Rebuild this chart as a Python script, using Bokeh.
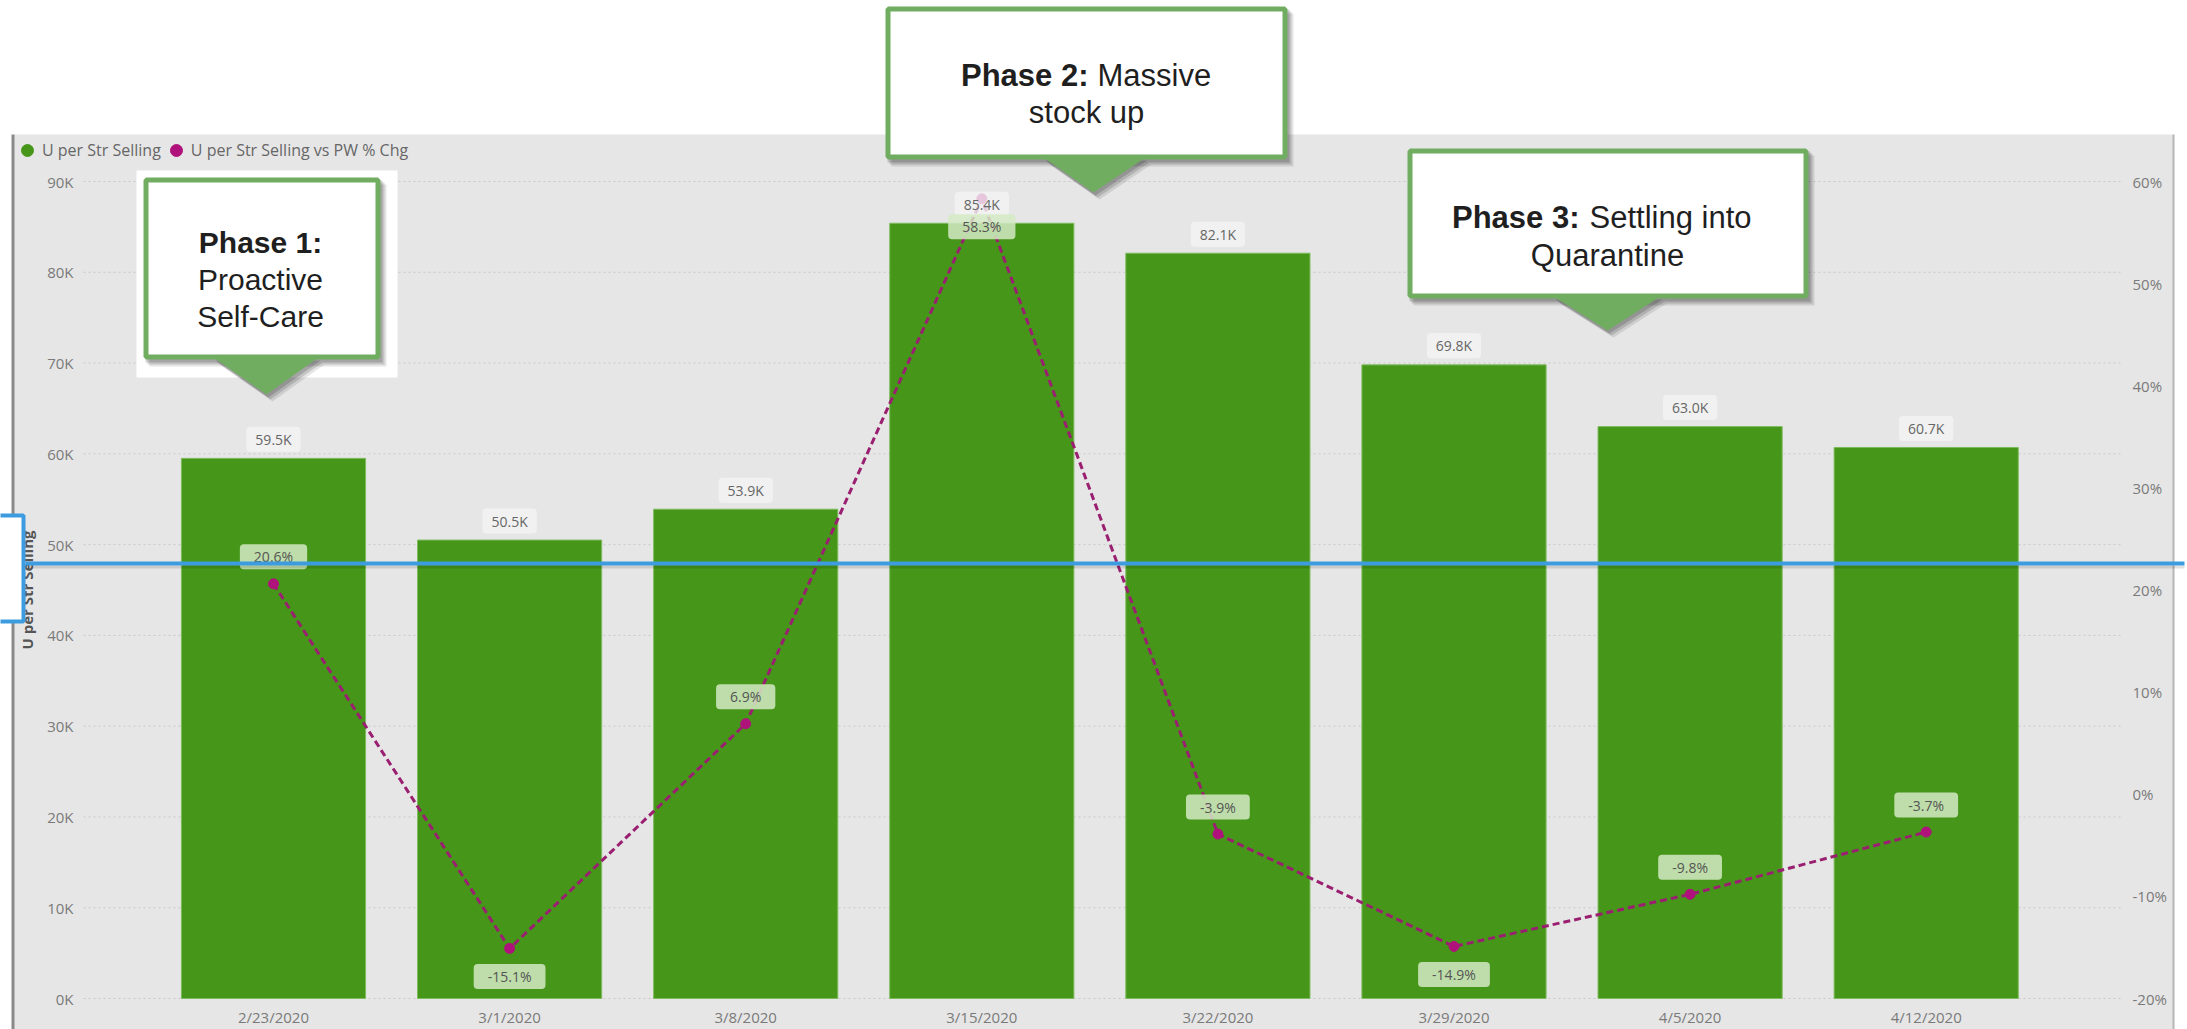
from bokeh.plotting import figure
from bokeh.models import (Range1d, LinearAxis, FixedTicker, BoxAnnotation, PolyAnnotation,
                          Label, Legend, LegendItem)
from bokeh.core.properties import value
from bokeh.embed import file_html
from bokeh.resources import INLINE

# ---------------- data ----------------
weeks = ["2/23/2020", "3/1/2020", "3/8/2020", "3/15/2020",
         "3/22/2020", "3/29/2020", "4/5/2020", "4/12/2020"]
units_per_store = [59500, 50500, 53900, 85400, 82100, 69800, 63000, 60700]
pct_vs_prev_week = [20.6, -15.1, 6.9, 58.3, -3.9, -14.9, -9.8, -3.7]

left_ticks = [0, 10000, 20000, 30000, 40000, 50000, 60000, 70000, 80000, 90000]
left_tick_labels = ["0K", "10K", "20K", "30K", "40K", "50K", "60K", "70K", "80K", "90K"]
right_ticks = [-20, -10, 0, 10, 20, 30, 40, 50, 60]
right_tick_labels = ["-20%", "-10%", "0%", "10%", "20%", "30%", "40%", "50%", "60%"]

series_names = ["U per Str Selling", "U per Str Selling vs PW % Chg"]

# ---------------- styling / layout ----------------
W, H = 2187, 1029
PL, PR, PT, PB = 83, 2120, 181, 998          # plot area inside the report panel (canvas px)
UNIT = 236.1                                   # px per category
FIRST_CENTER = 273
GREEN = "#46961a"
PURPLE_LINE = "#9a1f70"
PURPLE_PT = "#b0127c"
CALLOUT_GREEN = "#70ad60"
PANEL = "#e6e6e6"
BLUE = "#3d9be0"
FONT = "Open Sans"
CFONT = "Liberation Sans"

xpos = list(range(1, len(weeks) + 1))

# the frame covers the whole canvas; ranges are chosen so the plot area sits at PL..PR, PT..PB
x_start = 1 - FIRST_CENTER / UNIT
x_end = x_start + W / UNIT
lo, hi = left_ticks[0], left_ticks[-1]
per_px = (hi - lo) / (PB - PT)
y_start, y_end = lo - (H - PB) * per_px, hi + PT * per_px
plo, phi = right_ticks[0], right_ticks[-1]
per_px_p = (phi - plo) / (PB - PT)
p_start, p_end = plo - (H - PB) * per_px_p, phi + PT * per_px_p


def px_to_x(px):
    return x_start + px / UNIT


p = figure(width=W, height=H, output_backend="svg", toolbar_location=None,
           x_range=Range1d(x_start, x_end), y_range=Range1d(y_start, y_end),
           min_border=0, min_border_left=0, min_border_right=0,
           min_border_top=0, min_border_bottom=0)
p.extra_y_ranges = {"pct": Range1d(p_start, p_end)}
p.background_fill_color = "white"
p.border_fill_color = "white"
p.outline_line_color = None
p.xgrid.grid_line_color = None
p.ygrid.grid_line_color = None


def cbox(l, t, r, b, **kw):
    kw.setdefault("line_alpha", 1)
    return BoxAnnotation(left=l, right=r, top=t, bottom=b,
                         left_units="canvas", right_units="canvas",
                         top_units="canvas", bottom_units="canvas", **kw)


def ctri(xs, ys, **kw):
    return PolyAnnotation(xs=xs, ys=ys, xs_units="canvas", ys_units="canvas", **kw)


# grey report panel
p.add_layout(cbox(13, 134, 2173, H + 5, fill_color=PANEL, fill_alpha=1,
                  line_color=None, level="image"))
p.add_layout(cbox(11, 134, 14, H + 5, fill_color="#8a8a8a", fill_alpha=1,
                  line_color=None, level="image"))
p.add_layout(cbox(2172, 134, 2174, H + 5, fill_color="#b5b5b5", fill_alpha=1,
                  line_color=None, level="image"))

# gridlines (from the left axis ticks, limited to the plot area)
n = len(left_ticks)
p.segment(x0=[px_to_x(PL)] * n, x1=[px_to_x(PR)] * n, y0=left_ticks, y1=left_ticks,
          line_color="#c9c9c9", line_width=1, line_dash="2 3")

# ---------------- axes ----------------
p.yaxis.fixed_location = px_to_x(PL)
p.yaxis.bounds = (lo, hi)
p.yaxis.ticker = FixedTicker(ticks=left_ticks)
p.yaxis.major_label_overrides = dict(zip(left_ticks, left_tick_labels))
p.yaxis.axis_label = series_names[0]
p.yaxis.axis_label_text_font = FONT
p.yaxis.axis_label_text_font_size = "15px"
p.yaxis.axis_label_text_font_style = "bold"
p.yaxis.axis_label_text_color = "#555555"
p.yaxis.axis_label_standoff = 7

p.xaxis.fixed_location = 0
p.xaxis.ticker = FixedTicker(ticks=xpos)
p.xaxis.major_label_overrides = dict(zip(xpos, weeks))

ry = LinearAxis(y_range_name="pct", ticker=FixedTicker(ticks=right_ticks),
                major_label_overrides=dict(zip(right_ticks, right_tick_labels)),
                fixed_location=px_to_x(PR), bounds=(plo, phi))
p.add_layout(ry, "right")

for ax in [p.xaxis[0], p.yaxis[0], ry]:
    ax.axis_line_color = None
    ax.major_tick_line_color = None
    ax.minor_tick_line_color = None
    ax.major_tick_out = 0
    ax.major_tick_in = 0
    ax.minor_tick_out = 0
    ax.minor_tick_in = 0
    ax.major_label_text_font = FONT
    ax.major_label_text_font_size = "15px"
    ax.major_label_text_color = "#7a7a7a"
p.xaxis.major_label_standoff = 8
p.yaxis.major_label_standoff = 10
ry.major_label_standoff = 12

# ---------------- glyphs ----------------
p.vbar(x=xpos, top=units_per_store, bottom=0, width=0.78,
       fill_color=GREEN, line_color="#7dbb5c", line_width=1)

p.line(xpos, pct_vs_prev_week, y_range_name="pct", line_color=PURPLE_LINE,
       line_width=3, line_dash="7 4")
p.scatter(xpos, pct_vs_prev_week, y_range_name="pct", size=10,
          fill_color=PURPLE_PT, line_color=PURPLE_PT)

bar_labels = [f"{v / 1000:.1f}K" for v in units_per_store]
p.text(x=xpos, y=units_per_store, text=bar_labels, y_offset=-19,
       text_align="center", text_baseline="middle",
       text_font=value(FONT), text_font_size="14px", text_color="#666666",
       background_fill_color="#f4f4f4", background_fill_alpha=0.8,
       padding=(9, 3), border_radius=4)

pct_labels = [f"{v:.1f}%" for v in pct_vs_prev_week]
pct_offsets = [28 if (v < -12 or v > 50) else -27 for v in pct_vs_prev_week]
p.text(x=xpos, y=pct_vs_prev_week, y_range_name="pct", text=pct_labels,
       y_offset=pct_offsets, text_align="center", text_baseline="middle",
       text_font=value(FONT), text_font_size="14px", text_color="#555555",
       background_fill_color="#d3eac4", background_fill_alpha=0.85,
       padding=(14, 3), border_radius=4)

# ---------------- legend ----------------
nan = float("nan")
d1 = p.scatter(x=[nan], y=[nan], size=12, fill_color=GREEN, line_color=GREEN)
d2 = p.scatter(x=[nan], y=[nan], size=12, fill_color=PURPLE_PT, line_color=PURPLE_PT)
legend = Legend(items=[LegendItem(label=series_names[0], renderers=[d1]),
                       LegendItem(label=series_names[1], renderers=[d2])],
                orientation="horizontal", location=(12, H - 165),
                glyph_width=30, glyph_height=30, label_standoff=-5, spacing=-4,
                padding=0, margin=0, border_line_color=None,
                background_fill_alpha=0,
                label_text_font=FONT, label_text_font_size="16px",
                label_text_color="#666666")
p.add_layout(legend)

# ---------------- blue marker line ----------------
p.add_layout(cbox(25, 565, 2184, 568, fill_color="#000000", fill_alpha=0.12,
                  line_color=None, level="overlay"))
p.add_layout(cbox(25, 561, 2184, 565, fill_color=BLUE, fill_alpha=1,
                  line_color=None, level="overlay"))
p.add_layout(cbox(-5, 515, 23, 621, fill_color="white", fill_alpha=1,
                  line_color=BLUE, line_width=4, level="overlay"))


# ---------------- callouts ----------------
def callout(l, t, r, b, tri, backing=None):
    if backing is not None:
        bl, bt, br, bb = backing
        p.add_layout(cbox(bl, bt, br, bb, fill_color="white", fill_alpha=1,
                          line_color=None, level="overlay"))
    (ax, ay), (bx, by), (cx, cy) = tri
    for dx, dy, a in [(6, 7, 0.10), (4, 5, 0.14), (2, 3, 0.16)]:
        p.add_layout(cbox(l + dx, t + dy, r + dx, b + dy, fill_color="#000000",
                          fill_alpha=a, line_color=None, level="overlay"))
        p.add_layout(ctri([ax + dx, bx + dx, cx + dx], [ay + dy, by + dy, cy + dy],
                          fill_color="#000000", fill_alpha=a, line_color=None,
                          level="overlay"))
    p.add_layout(cbox(l + 2.5, t + 2.5, r - 2.5, b - 2.5, fill_color="white",
                      fill_alpha=1, line_color=CALLOUT_GREEN, line_width=5,
                      level="overlay"))
    p.add_layout(ctri([ax, bx, cx], [ay, by, cy], fill_color=CALLOUT_GREEN,
                      fill_alpha=1, line_color=None, level="overlay"))


def ctext(x, y, text, align="center", bold=False, size="30px"):
    p.add_layout(Label(x=x, y=y, x_units="canvas", y_units="canvas", text=text,
                       text_align=align, text_baseline="alphabetic",
                       text_font=CFONT, text_font_size=size,
                       text_font_style="bold" if bold else "normal",
                       text_color="#1f1f1f", level="overlay"))


# Phase 1
callout(143, 177, 380, 359, [(213, 357), (318, 357), (266, 394)],
        backing=(136, 170, 397, 377))
ctext(260, 242, "Phase 1:", bold=True)
ctext(260, 279, "Proactive")
ctext(260, 316, "Self-Care")

# Phase 2
callout(885, 6, 1287, 159, [(1043, 157), (1145, 157), (1093, 192)])
ctext(1088, 75, "Phase 2:", align="right", bold=True, size="31px")
ctext(1097, 75, "Massive", align="left", size="31px")
ctext(1086, 112, "stock up", size="31px")

# Phase 3
callout(1407, 148, 1808, 298, [(1553, 296), (1660, 296), (1607, 330)])
ctext(1579, 217, "Phase 3:", align="right", bold=True, size="31px")
ctext(1589, 217, "Settling into", align="left", size="31px")
ctext(1607, 255, "Quarantine", size="31px")

open("out.html", "w").write(file_html(p, INLINE))
